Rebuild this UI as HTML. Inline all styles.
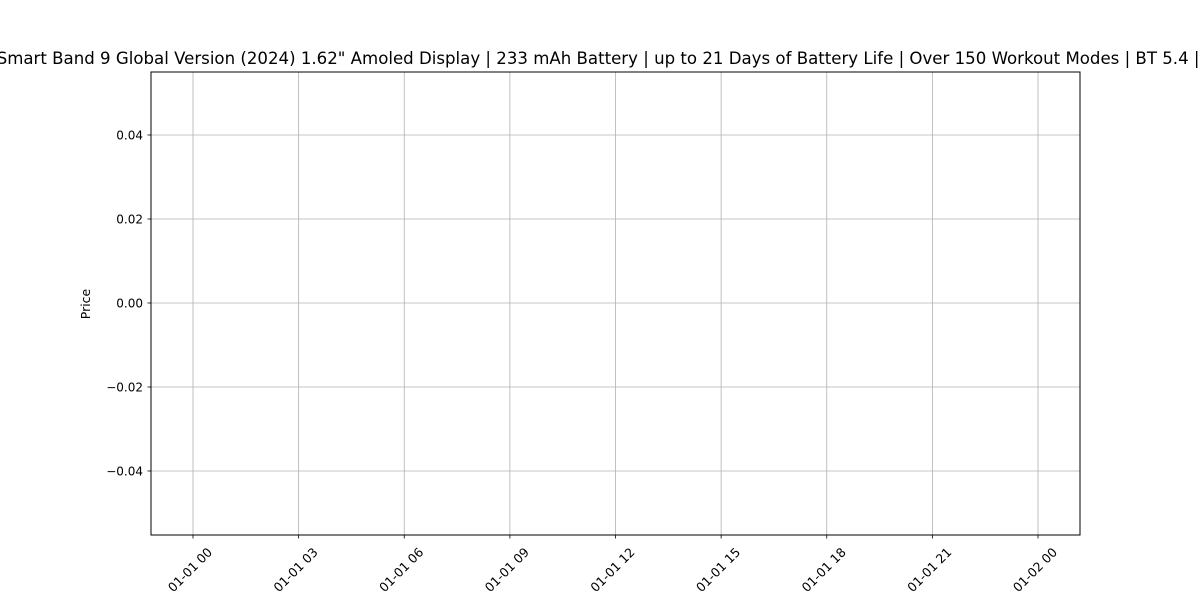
<!DOCTYPE html>
<html><head><meta charset="utf-8"><style>
html,body{margin:0;padding:0;background:#fff;width:1200px;height:600px;overflow:hidden;}
svg text{font-family:"DejaVu Sans","Liberation Sans",sans-serif;fill:#000;}
</style></head><body>
<svg id="chart" width="1200" height="600" xmlns="http://www.w3.org/2000/svg">
<text x="592" y="64" font-size="16.6" text-anchor="middle">Xiaomi Smart Band 9 Global Version (2024) 1.62" Amoled Display | 233 mAh Battery | up to 21 Days of Battery Life | Over 150 Workout Modes | BT 5.4 | Black</text>
<g id="grid"></g>
<g id="ticks"></g>
<rect x="151" y="72" width="929" height="463" fill="none" stroke="#000" stroke-width="1"/>
<text x="0" y="0" font-size="12.5" text-anchor="middle" transform="translate(90,304) rotate(-90)">Price</text>
</svg>
<script>
const priceDates = [];
const priceValues = [];
const xTickHours = [0,3,6,9,12,15,18,21,24];
const xTickLabels = ["01-01 00","01-01 03","01-01 06","01-01 09","01-01 12","01-01 15","01-01 18","01-01 21","01-02 00"];
const yTickValues = [0.04,0.02,0.00,-0.02,-0.04];
const yTickLabels = ["0.04","0.02","0.00","\u22120.02","\u22120.04"];

const xScale = h => 193 + h * (1038 - 193) / 24;
const yScale = v => 303 - v * 4200;
const NS = "http://www.w3.org/2000/svg";
const grid = document.getElementById('grid');
const ticks = document.getElementById('ticks');
function mk(tag, attrs){const e=document.createElementNS(NS,tag);for(const k in attrs)e.setAttribute(k,attrs[k]);return e;}

xTickHours.forEach((h,i)=>{
  const x = xScale(h);
  const g = mk('line',{x1:x,x2:x,y1:72,y2:535,stroke:'#b0b0b0','stroke-width':0.8});
  
  
  grid.appendChild(g);
  const t = mk('line',{x1:x,x2:x,y1:535,y2:538.5,stroke:'#000','stroke-width':0.8});
  
  
  ticks.appendChild(t);
  const lb = mk('text',{'font-size':12.5,'text-anchor':'end',transform:`translate(${x+20},${553}) rotate(-45)`});
  lb.textContent = xTickLabels[i];
  
  
  ticks.appendChild(lb);
});
yTickValues.forEach((v,i)=>{
  const y = yScale(v);
  const g = mk('line',{x1:151,x2:1080,y1:y,y2:y,stroke:'#b0b0b0','stroke-width':0.8});
  
  
  grid.appendChild(g);
  const t = mk('line',{x1:147.5,x2:151,y1:y,y2:y,stroke:'#000','stroke-width':0.8});
  
  
  ticks.appendChild(t);
  const lb = mk('text',{x:143,y:y+4.5,'font-size':12,'text-anchor':'end'});
  lb.textContent = yTickLabels[i];
  
  
  ticks.appendChild(lb);
});
</script>
</body></html>
